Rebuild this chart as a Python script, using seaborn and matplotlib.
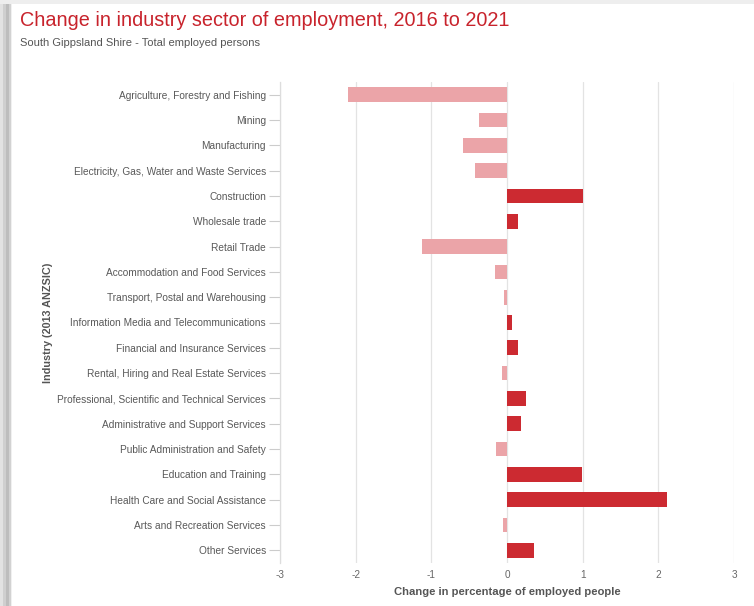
import matplotlib
matplotlib.use("Agg")
import matplotlib.pyplot as plt
import seaborn as sns
import pandas as pd
from matplotlib.patches import Rectangle

industries = [
    "Agriculture, Forestry and Fishing",
    "Mining",
    "Manufacturing",
    "Electricity, Gas, Water and Waste Services",
    "Construction",
    "Wholesale trade",
    "Retail Trade",
    "Accommodation and Food Services",
    "Transport, Postal and Warehousing",
    "Information Media and Telecommunications",
    "Financial and Insurance Services",
    "Rental, Hiring and Real Estate Services",
    "Professional, Scientific and Technical Services",
    "Administrative and Support Services",
    "Public Administration and Safety",
    "Education and Training",
    "Health Care and Social Assistance",
    "Arts and Recreation Services",
    "Other Services",
]
change = [-2.10, -0.37, -0.58, -0.42, 1.00, 0.14, -1.12, -0.16, -0.04, 0.06,
          0.14, -0.06, 0.25, 0.18, -0.14, 0.99, 2.12, -0.05, 0.36]
x_ticks = [-3, -2, -1, 0, 1, 2, 3]

df = pd.DataFrame({"industry": industries, "change": change})
df["direction"] = ["gain" if v >= 0 else "loss" for v in df["change"]]

sns.set_theme(style="white")
plt.rcParams["font.family"] = ["Liberation Sans", "DejaVu Sans"]

W, H = 754, 606
fig = plt.figure(figsize=(W / 100, H / 100), dpi=100, facecolor="#eeeeee")

# card with a soft shadow on the left edge
shadow = [(0, "#e2e2e2"), (3, "#cfcfcf"), (6, "#bdbdbd"), (9, "#d2d2d2"), (11, "#f0f0f0")]
for x0, col in shadow:
    fig.add_artist(Rectangle((x0 / W, 0), 3 / W, (H - 4) / H, transform=fig.transFigure,
                             facecolor=col, edgecolor="none", zorder=0))
fig.add_artist(Rectangle((12 / W, 0), (W - 12) / W, (H - 4) / H, transform=fig.transFigure,
                         facecolor="white", edgecolor="none", zorder=0))

ax = fig.add_axes([280 / W, 1 - 563 / H, (734 - 280) / W, (563 - 82) / H])
ax.set_facecolor("none")

sns.barplot(data=df, y="industry", x="change", hue="direction",
            palette={"gain": "#cc2a31", "loss": "#eba4a8"}, saturation=1,
            dodge=False, width=0.58, legend=False, linewidth=0, ax=ax, zorder=3)

ax.set_xlim(-3, 3)
ax.set_ylim(len(industries) - 0.5, -0.5)
ax.set_xticks(x_ticks)
ax.set_xticklabels([str(t) for t in x_ticks])
ax.grid(axis="x", color="#e3e3e3", linewidth=0.9, zorder=0)
ax.grid(axis="y", visible=False)

for side in ["top", "right", "bottom"]:
    ax.spines[side].set_visible(False)
ax.spines["left"].set_color("#dddddd")
ax.spines["left"].set_linewidth(0.9)

ax.tick_params(axis="y", left=True, length=8, width=0.8, color="#cccccc",
               labelsize=7.3, labelcolor="#595959", pad=2)
ax.tick_params(axis="x", bottom=False, length=0, labelsize=7.2,
               labelcolor="#666666", pad=5)

ax.set_xlabel("Change in percentage of employed people", fontsize=8.1,
              fontweight="bold", color="#555555", labelpad=5)
ax.set_ylabel("Industry (2013 ANZSIC)", fontsize=7.8, fontweight="bold",
              color="#555555")
ax.yaxis.set_label_coords(-0.5, 0.5)

fig.text(20 / W, 1 - 20 / H, "Change in industry sector of employment, 2016 to 2021",
         fontsize=14.3, color="#c8232c", va="center", ha="left")
fig.text(20 / W, 1 - 43 / H, "South Gippsland Shire - Total employed persons",
         fontsize=8.0, color="#555555", va="center", ha="left")

fig.savefig("out.png", dpi=100, facecolor=fig.get_facecolor())
